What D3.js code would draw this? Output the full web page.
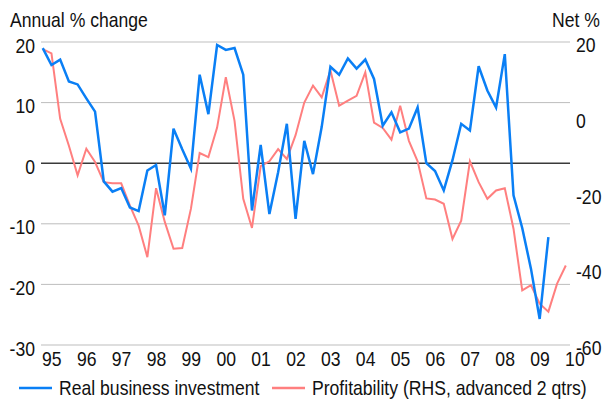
<!DOCTYPE html>
<html>
<head>
<meta charset="utf-8">
<script src="https://cdn.jsdelivr.net/npm/d3@7"></script>
<style>
  body { margin: 0; background: #fff; }
  svg text { font-family: "Liberation Sans", Arial, sans-serif; fill: #111; }
</style>
</head>
<body>
<svg width="603" height="401"></svg>
<script>
// quarterly data, first point 1995 Q1
var startYear = 1995;
var investment = [19.0, 16.2, 17.1, 13.5, 13.0, 10.7, 8.5, -3.0, -4.7, -4.1, -7.3, -7.9,
  -1.2, -0.3, -8.6, 5.7, 2.3, -0.9, 14.6, 8.1, 19.5, 18.7, 19.0, 14.6,
  -7.8, 3.0, -8.4, -1.5, 6.5, -9.2, 3.7, -1.8, 6.0, 15.9, 14.6, 17.3,
  15.6, 17.1, 13.9, 6.2, 8.4, 5.1, 5.7, 9.2, 0.0, -1.3, -4.5, 0.5,
  6.5, 5.4, 16.0, 12.0, 9.2, 18.0, -5.3, -10.7, -17.4, -25.7, -12.2];
var profitability = [18.1, 17.0, -0.3, -7.4, -15.2, -8.2, -11.7, -17.0, -17.3, -17.3, -23.2, -28.5,
  -36.8, -18.6, -27.5, -34.6, -34.4, -24.0, -9.3, -10.4, -2.6, 10.7, -0.8, -21.4,
  -29.1, -12.8, -11.5, -8.3, -10.9, -4.6, 4.0, 8.5, 5.4, 12.5, 3.2, 4.5,
  5.8, 12.0, -1.3, -2.7, -5.8, 3.2, -6.1, -11.5, -21.3, -21.6, -22.7, -32.0,
  -27.2, -11.5, -17.0, -21.4, -19.2, -18.6, -29.3, -45.6, -44.2, -49.1, -51.2, -43.8, -39.0];
var leftTicks = [20, 10, 0, -10, -20, -30];
var rightTicks = [20, 0, -20, -40, -60];
var yearLabels = ["95", "96", "97", "98", "99", "00", "01", "02", "03", "04", "05", "06", "07", "08", "09", "10"];
var seriesNames = ["Real business investment", "Profitability (RHS, advanced 2 qtrs)"];
var colors = ["#0a7ff5", "#ff7f7f"];

var svg = d3.select("svg");
var plotL = 41, plotR = 570, plotT = 42, plotB = 345;
var sx = 0.88; // narrow type

var x = d3.scaleLinear().domain([1994.95, 2010.12]).range([plotL, plotR]);
var yL = d3.scaleLinear().domain([-30, 20]).range([plotB, plotT]);
var yR = d3.scaleLinear().domain([-60, 20]).range([plotB, plotT]);

function label(g, txt, px, py, anchor, size) {
  g.append("text")
    .attr("transform", "translate(" + px + "," + py + ") scale(" + sx + ",1)")
    .attr("text-anchor", anchor)
    .style("font-size", (size || 20) + "px")
    .text(txt);
}

// gridlines
svg.append("g").selectAll("line").data(leftTicks.filter(function(d){ return d != 0; }))
  .enter().append("line")
  .attr("x1", plotL).attr("x2", plotR)
  .attr("y1", function(d){ return yL(d); }).attr("y2", function(d){ return yL(d); })
  .attr("stroke", function(d){ return d == 20 ? "#d4d4d4" : "#bdbdbd"; })
  .attr("stroke-width", function(d){ return d == 20 ? 1.5 : 1; });

svg.append("line")
  .attr("x1", plotL).attr("x2", plotR)
  .attr("y1", yL(0)).attr("y2", yL(0))
  .attr("stroke", "#3a3a3a").attr("stroke-width", 1.6);

// axis labels
var ax = svg.append("g");
leftTicks.forEach(function(d){ label(ax, d, 35, yL(d) + 10.5, "end"); });
rightTicks.forEach(function(d){ label(ax, d, 576, yR(d) + 10, "start"); });
yearLabels.forEach(function(d, i){ label(ax, d, x(startYear + i + 0.26), 366, "middle"); });
label(ax, "Annual % change", 10, 27, "start");
label(ax, "Net %", 600, 27, "end");

// lines
var lineL = d3.line()
  .x(function(d, i){ return x(startYear + i / 4); })
  .y(function(d){ return yL(d); });
var lineR = d3.line()
  .x(function(d, i){ return x(startYear + i / 4); })
  .y(function(d){ return yR(d); });

svg.append("path").datum(profitability)
  .attr("d", lineR).attr("fill", "none")
  .attr("stroke", colors[1]).attr("stroke-width", 2).attr("stroke-linejoin", "miter");
svg.append("path").datum(investment)
  .attr("d", lineL).attr("fill", "none")
  .attr("stroke", colors[0]).attr("stroke-width", 2.5).attr("stroke-linejoin", "miter");

// legend
var lg = svg.append("g");
var legendX = [[19, 52, 59], [272, 305, 312]];
seriesNames.forEach(function(name, i){
  lg.append("line")
    .attr("x1", legendX[i][0]).attr("x2", legendX[i][1])
    .attr("y1", 388).attr("y2", 388)
    .attr("stroke", colors[i]).attr("stroke-width", 2.5);
  label(lg, name, legendX[i][2], 395, "start");
});
</script>
</body>
</html>
